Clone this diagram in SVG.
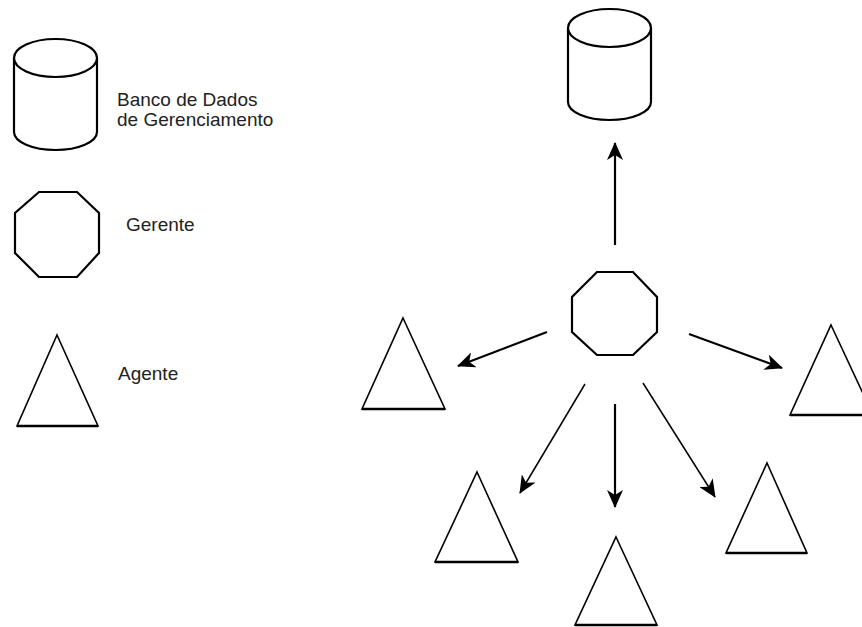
<svg xmlns="http://www.w3.org/2000/svg" width="862" height="627" viewBox="0 0 862 627">
  <style>
    .shape { fill: none; stroke: #000; stroke-width: 2.2; stroke-linejoin: miter; }
    .tri { fill: none; stroke: #000; stroke-width: 1.6; stroke-linejoin: miter; }
    .base { stroke: #000; stroke-width: 2.4; }
    .label { font-family: "Liberation Sans", Arial, sans-serif; font-size: 19px; fill: #222; }
    .edge { stroke: #000; stroke-width: 2.2; fill: none; }
    .thin { stroke: #000; stroke-width: 1.5; fill: none; }
  </style>
  <defs>
    <marker id="head" viewBox="0 0 18 16" refX="17" refY="8" markerWidth="18" markerHeight="16" markerUnits="userSpaceOnUse" orient="auto">
      <path d="M0,0 L18,8 L0,16 L5,8 Z" fill="#000"/>
    </marker>
    <!-- cylinder, origin at the top-left corner of its side walls -->
    <g id="cyl">
      <path class="shape" d="M0,0 A41.5,19 0 0 1 83,0 A41.5,19 0 0 1 0,0 M0,0 V74 A41.5,18 0 0 0 83,74 V0"/>
    </g>
  </defs>

  <rect width="862" height="627" fill="#fff"/>

  <!-- legend -->
  <g id="legend-db">
    <use href="#cyl" x="14" y="58"/>
    <text class="label" x="117" y="106">Banco de Dados</text>
    <text class="label" x="117" y="126">de Gerenciamento</text>
  </g>
  <g id="legend-manager">
    <polygon class="shape" points="39,192 77,192 99,213 99,253 77,277 39,277 15,253 15,213"/>
    <text class="label" x="126" y="231">Gerente</text>
  </g>
  <g id="legend-agent">
    <polygon class="tri" points="57,335 98,426 17,426"/>
    <line class="base" x1="17" y1="426" x2="98" y2="426"/>
    <text class="label" x="118" y="380">Agente</text>
  </g>

  <!-- management database -->
  <g id="database">
    <use href="#cyl" x="568" y="28"/>
  </g>

  <!-- manager -->
  <g id="manager">
    <polygon class="shape" points="597,272 633,272 657,297 657,332 633,355 597,355 572,332 572,297"/>
  </g>

  <!-- agents -->
  <g id="agent-left">
    <polygon class="tri" points="403,318 445,409 362,409"/>
    <line class="base" x1="362" y1="409" x2="445" y2="409"/>
  </g>
  <g id="agent-right">
    <polygon class="tri" points="831,325 873,415 790,415"/>
    <line class="base" x1="790" y1="415" x2="873" y2="415"/>
  </g>
  <g id="agent-lower-left">
    <polygon class="tri" points="477,472 518,562 435,562"/>
    <line class="base" x1="435" y1="562" x2="518" y2="562"/>
  </g>
  <g id="agent-bottom">
    <polygon class="tri" points="616,537 657,625 575,625"/>
    <line class="base" x1="575" y1="625" x2="657" y2="625"/>
  </g>
  <g id="agent-lower-right">
    <polygon class="tri" points="767,463 807,553 726,553"/>
    <line class="base" x1="726" y1="553" x2="807" y2="553"/>
  </g>

  <!-- connectors -->
  <g id="connectors">
    <line class="edge" x1="615" y1="245" x2="615" y2="143" marker-end="url(#head)"/>
    <line class="edge" x1="547" y1="332" x2="458" y2="366" marker-end="url(#head)"/>
    <line class="edge" x1="689" y1="334" x2="782" y2="368" marker-end="url(#head)"/>
    <line class="edge" x1="615" y1="404" x2="615" y2="507" marker-end="url(#head)"/>
    <line class="thin" x1="585" y1="384" x2="520" y2="493" marker-end="url(#head)"/>
    <line class="thin" x1="643" y1="383" x2="715" y2="497" marker-end="url(#head)"/>
  </g>
</svg>
